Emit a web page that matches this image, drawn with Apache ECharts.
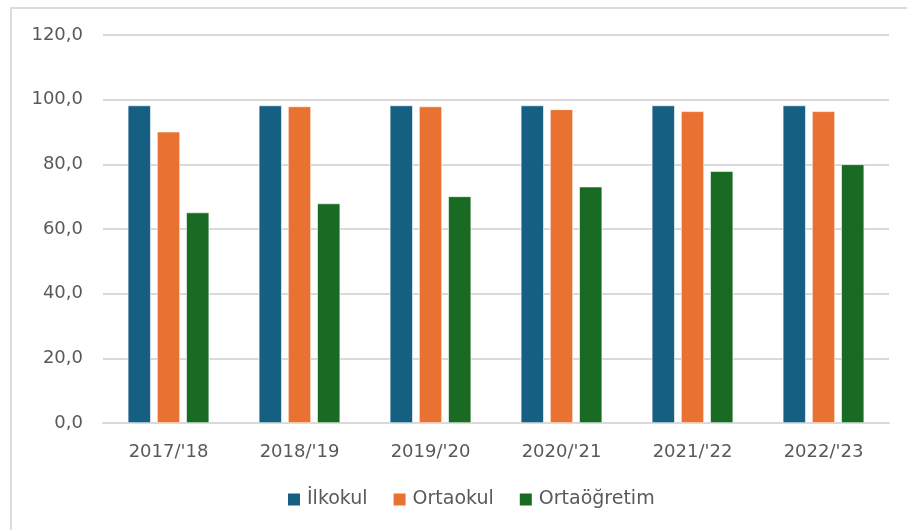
<!DOCTYPE html>
<html>
<head>
<meta charset="utf-8">
<script src="https://cdn.jsdelivr.net/npm/echarts@6/dist/echarts.min.js"></script>
<style>
  html, body { margin: 0; padding: 0; background: #fff; }
  #frame { position: absolute; left: 10px; top: 7px; width: 910px; height: 540px; border: 2px solid #dcdcdc; box-sizing: border-box; }
  #main { position: absolute; left: 0; top: 0; width: 907px; height: 530px; }
</style>
</head>
<body>
<div id="frame"></div>
<div id="main"></div>
<script>
// okullasma orani verileri
const categories = ["2017/'18", "2018/'19", "2019/'20", "2020/'21", "2021/'22", "2022/'23"];
const ilkokul = [98.2, 98.2, 98.2, 98.2, 98.2, 98.2];
const ortaokul = [90.1, 97.9, 97.9, 97.0, 96.4, 96.4];
const ortaogretim = [65.1, 67.9, 70.1, 73.1, 77.9, 80.0];
const seriesNames = ["İlkokul", "Ortaokul", "Ortaöğretim"];
const colors = ["#156082", "#e97132", "#196b24"];

const chart = echarts.init(document.getElementById('main'), null, { renderer: 'canvas' });
const font = 'DejaVu Sans';

function bar(name, data) {
    return {
        name: name,
        type: 'bar',
        data: data,
        barWidth: 23,
        barGap: '27%',
        itemStyle: { borderColor: '#ffffff', borderWidth: 0.6 }
    };
}

chart.setOption({
    animation: false,
    color: colors,
    grid: { left: 103, right: 18, top: 35, bottom: 107 },
    legend: {
        bottom: 16,
        left: 281,
        itemWidth: 14,
        itemHeight: 14,
        itemGap: 24,
        icon: 'rect',
        textStyle: { color: '#595959', fontSize: 19, fontFamily: font, padding: [0, 0, 0, 1] },
        data: seriesNames
    },
    xAxis: {
        type: 'category',
        data: categories,
        axisLine: { lineStyle: { color: '#d9d9d9', width: 2 } },
        axisTick: { show: false },
        axisLabel: { color: '#595959', fontSize: 18, fontFamily: font, margin: 20 }
    },
    yAxis: {
        type: 'value',
        min: 0,
        max: 120,
        interval: 20,
        axisLine: { show: false },
        axisTick: { show: false },
        splitLine: { lineStyle: { color: '#d9d9d9', width: 2 } },
        axisLabel: {
            color: '#595959', fontSize: 18, fontFamily: font, margin: 20,
            formatter: v => v.toFixed(1).replace('.', ',')
        }
    },
    series: [
        bar(seriesNames[0], ilkokul),
        bar(seriesNames[1], ortaokul),
        bar(seriesNames[2], ortaogretim)
    ]
});
</script>
</body>
</html>
